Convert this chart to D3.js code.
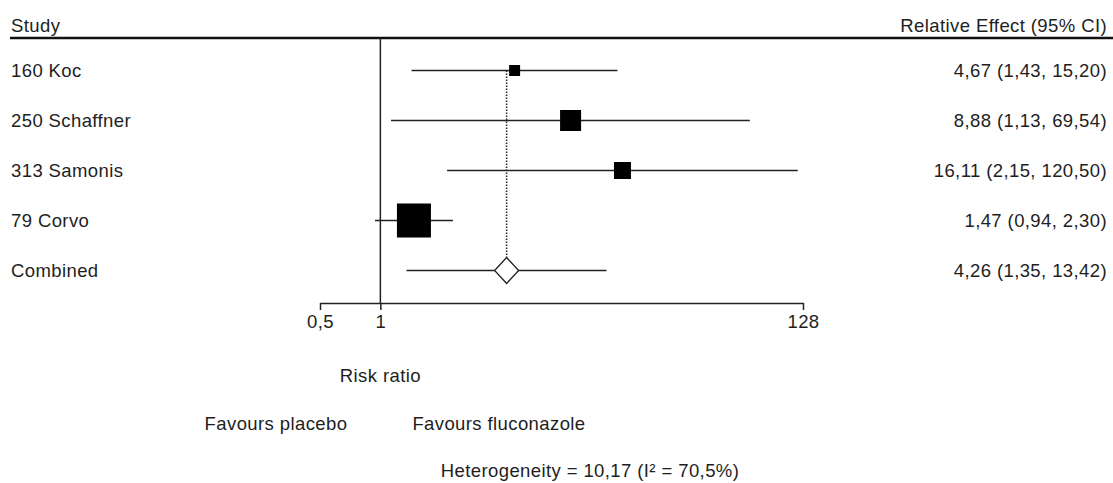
<!DOCTYPE html>
<html>
<head>
<meta charset="utf-8">
<script src="https://cdn.jsdelivr.net/npm/d3@7"></script>
<style>
  body { margin: 0; background: #fff; }
  text { font-family: "Liberation Sans", Arial, sans-serif; font-size: 18.5px; fill: #1e1e1e; letter-spacing: 0.4px; }
</style>
</head>
<body>
<script>
// study rows (top to bottom)
var studies = ["160 Koc", "250 Schaffner", "313 Samonis", "79 Corvo"];
var rr = [4.67, 8.88, 16.11, 1.47];
var lower = [1.43, 1.13, 2.15, 0.94];
var upper = [15.20, 69.54, 120.50, 2.30];
var weights = [6.0, 22.0, 14.4, 57.6]; // % weight, drives square size

var combined = {name: "Combined", rr: 4.26, lower: 1.35, upper: 13.42};
var effectLabels = ["4,67 (1,43, 15,20)", "8,88 (1,13, 69,54)", "16,11 (2,15, 120,50)", "1,47 (0,94, 2,30)"];
var combinedLabel = "4,26 (1,35, 13,42)";
var tickValues = [0.5, 1, 128];
var heterogeneity = "Heterogeneity = 10,17 (I\u00b2 = 70,5%)";

var W = 1113, H = 483;
var svg = d3.select("body").append("svg")
            .attr("width", W)
            .attr("height", H);

var x = d3.scaleLog().domain([0.5, 128]).range([320, 803]);
var rowY = d3.scalePoint().domain(studies.concat([combined.name])).range([70.5, 270.5]);
var size = d3.scaleSqrt().domain([0, d3.max(weights)]).range([0, 34]);
var axisY = 303;

// header
svg.append("text").attr("x", 11).attr("y", 26).attr("dy", ".35em").text("Study");
svg.append("text").attr("x", 1107).attr("y", 26).attr("dy", ".35em")
   .attr("text-anchor", "end").text("Relative Effect (95% CI)");
svg.append("line")
   .attr("x1", 10).attr("x2", W)
   .attr("y1", 38).attr("y2", 38)
   .attr("stroke", "#111").attr("stroke-width", 2.5);

// line of no effect
svg.append("line")
   .attr("x1", x(1)).attr("x2", x(1))
   .attr("y1", 38).attr("y2", axisY)
   .attr("stroke", "#222").attr("stroke-width", 1.5);

// dotted line at the pooled estimate
svg.append("line")
   .attr("x1", x(combined.rr)).attr("x2", x(combined.rr))
   .attr("y1", rowY(studies[0])).attr("y2", rowY(combined.name) - 13)
   .attr("stroke", "#222").attr("stroke-width", 1.5)
   .attr("stroke-dasharray", "1.5,1.5");

// study rows
for (var i = 0; i < studies.length; i++) {
  var y = rowY(studies[i]);
  svg.append("text").attr("x", 11).attr("y", y).attr("dy", ".35em").text(studies[i]);
  svg.append("text").attr("x", 1107).attr("y", y).attr("dy", ".35em")
     .attr("text-anchor", "end").text(effectLabels[i]);
  svg.append("line")
     .attr("x1", x(lower[i])).attr("x2", x(upper[i]))
     .attr("y1", y).attr("y2", y)
     .attr("stroke", "#222").attr("stroke-width", 1.5);
  var s = size(weights[i]);
  svg.append("rect")
     .attr("x", x(rr[i]) - s / 2)
     .attr("y", y - s / 2)
     .attr("width", s)
     .attr("height", s)
     .attr("fill", "#000");
}

// combined row
var cy = rowY(combined.name);
svg.append("text").attr("x", 11).attr("y", cy).attr("dy", ".35em").text(combined.name);
svg.append("text").attr("x", 1107).attr("y", cy).attr("dy", ".35em")
   .attr("text-anchor", "end").text(combinedLabel);
svg.append("line")
   .attr("x1", x(combined.lower)).attr("x2", x(combined.upper))
   .attr("y1", cy).attr("y2", cy)
   .attr("stroke", "#222").attr("stroke-width", 1.5);
var cx = x(combined.rr);
svg.append("path")
   .attr("d", "M" + (cx - 12) + "," + cy + "L" + cx + "," + (cy - 13) +
              "L" + (cx + 12) + "," + cy + "L" + cx + "," + (cy + 13) + "Z")
   .attr("fill", "#fff").attr("stroke", "#222").attr("stroke-width", 1.3);

// axis
var axis = d3.axisBottom(x)
             .tickValues(tickValues)
             .tickSize(7)
             .tickSizeOuter(0)
             .tickFormat(function(d){ return String(d).replace(".", ","); });
var g = svg.append("g").attr("transform", "translate(0," + axisY + ")").call(axis);
g.select(".domain").attr("stroke", "#222").attr("stroke-width", 1.5);
g.selectAll(".tick line").attr("stroke", "#222").attr("stroke-width", 1.5);
g.selectAll(".tick text")
 .attr("y", 19).attr("dy", ".35em")
 .style("font-family", "'Liberation Sans', Arial, sans-serif")
 .style("font-size", "18.5px").attr("fill", "#1e1e1e");

// labels under the axis
svg.append("text").attr("x", x(1)).attr("y", 376).attr("dy", ".35em")
   .attr("text-anchor", "middle").text("Risk ratio");
svg.append("text").attr("x", x(1) - 33).attr("y", 424).attr("dy", ".35em")
   .attr("text-anchor", "end").text("Favours placebo");
svg.append("text").attr("x", x(1) + 32).attr("y", 424).attr("dy", ".35em")
   .text("Favours fluconazole");
svg.append("text").attr("x", 590).attr("y", 471).attr("dy", ".35em")
   .attr("text-anchor", "middle").text(heterogeneity);
</script>
</body>
</html>
